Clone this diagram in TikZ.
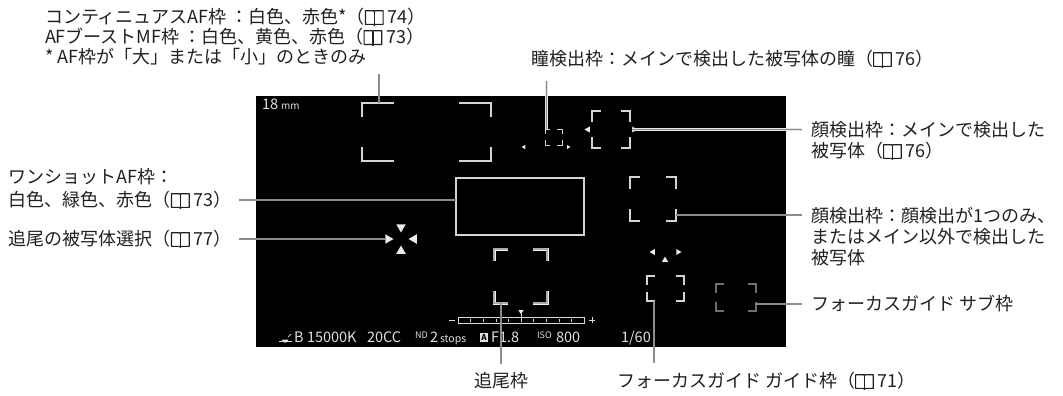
\documentclass[tikz,border=0pt]{standalone}
\usepackage{fontspec}
\setmainfont{Noto Sans CJK JP}
\usetikzlibrary{fit}
\definecolor{txt}{HTML}{231F20}
\definecolor{frmc}{HTML}{D4D4D4}
\definecolor{frmdim}{HTML}{6E6E6E}
\definecolor{leadc}{HTML}{8C8C8C}
\newcommand\bookicon{\tikz[baseline=0pt,x=1em,y=1em,line width=0.065em,line join=round]{%
  \draw (0.03,-0.06) -- (0.03,0.70) -- (0.48,0.70) -- (0.52,0.64) -- (0.56,0.70) -- (1.01,0.70) -- (1.01,-0.06) -- (0.56,-0.06) -- (0.52,-0.12) -- (0.48,-0.06) -- cycle;
  \draw (0.52,0.64) -- (0.52,-0.12);}}
\newcommand\corners[4]{%
  \draw[#1] ([xshift=#3pt]#2.north west) -- (#2.north west) -- ([yshift=-#4pt]#2.north west);
  \draw[#1] ([xshift=-#3pt]#2.north east) -- (#2.north east) -- ([yshift=-#4pt]#2.north east);
  \draw[#1] ([xshift=#3pt]#2.south west) -- (#2.south west) -- ([yshift=#4pt]#2.south west);
  \draw[#1] ([xshift=-#3pt]#2.south east) -- (#2.south east) -- ([yshift=#4pt]#2.south east);}
\newcommand\tri[4]{\fill[mk,shift={(#1,#2)},rotate=#3] (#4,0) -- (-#4/2,0.866*#4) -- (-#4/2,-0.866*#4) -- cycle;}
\begin{document}
\begin{tikzpicture}[x=1pt,y=-1pt,
  font=\fontsize{18}{21}\selectfont,
  lbl/.style={anchor=west,inner sep=0pt,outer sep=0pt,text=txt},
  box/.style={inner sep=0pt,outer sep=0pt},
  frm/.style={draw=frmc,line width=1.1pt},
  dimfrm/.style={draw=frmdim,line width=1.1pt},
  thinfrm/.style={draw=frmc,line width=0.8pt},
  dblfrm/.style={draw=white!95!black,double=gray!65,line width=0.9pt,double distance=1.2pt},
  leader/.style={draw=white!80!gray,double=leadc,line width=0.45pt,double distance=1.9pt},
  osd/.style={anchor=base west,inner sep=0pt,outer sep=0pt,text=white!88!black},
  mk/.style={fill=white!92!black}]
\useasboundingbox (0,0) rectangle (1063,396);
% screen
\node[box,fill=black,fit={(256,96)(786,347)}] (screen) {};
% labels
\node[lbl] (tl1) at (45,17) {コンティニュアスAF枠\ ：白色、赤色*（\bookicon\ 74）};
\node[lbl] (tl2) at (45,37) {AFブーストMF枠\ ：白色、黄色、赤色（\bookicon\ 73）};
\node[lbl] (tl3) at (45,57) {* AF枠が「大」または「小」のときのみ};
\node[lbl] (eyel) at (531,59) {瞳検出枠：メインで検出した被写体の瞳（\bookicon\ 76）};
\node[lbl] (f1a) at (811,130) {顔検出枠：メインで検出した};
\node[lbl] (f1b) at (811,151) {被写体（\bookicon\ 76）};
\node[lbl] (f2a) at (811,216) {顔検出枠：顔検出が1つのみ、};
\node[lbl] (f2b) at (811,237) {またはメイン以外で検出した};
\node[lbl] (f2c) at (811,258) {被写体};
\node[lbl] (subl) at (811,304) {フォーカスガイド\ サブ枠};
\node[lbl] (osa) at (9,177) {ワンショットAF枠：};
\node[lbl] (osb) at (9,200) {白色、緑色、赤色（\bookicon\ 73）};
\node[lbl] (tsl) at (9,239) {追尾の被写体選択（\bookicon\ 77）};
\node[lbl,anchor=center] (trkl) at (501,381) {追尾枠};
\node[lbl] (fgl) at (617,381) {フォーカスガイド\ ガイド枠（\bookicon\ 71）};
% frames
\node[box,fit={(362,103)(491,161)}] (caf) {};
\corners{frm}{caf}{32}{14}
\node[box,fit={(545,129)(562,145)}] (eye) {};
\corners{thinfrm}{eye}{5}{5}
\tri{524}{147}{180}{2.5}
\tri{568}{147}{0}{2.5}
\node[box,fit={(592,111)(630,148)}] (face1) {};
\corners{frm}{face1}{9}{11}
\tri{588}{129.5}{180}{3.5}
\tri{634}{129.5}{0}{3.5}
\node[box,fit={(630,177)(676,221)}] (face2) {};
\corners{frm}{face2}{10}{12}
\node[box,draw=frmc,line width=1.1pt,fit={(456,178)(584,235)}] (oneshot) {};
\node[box,fit={(494,249)(547,303)}] (trk) {};
\corners{dblfrm}{trk}{14}{12}
\node[box,fit={(647,276)(684,301)}] (fg) {};
\corners{frm}{fg}{8}{9}
\tri{653}{252}{-60}{3.5}
\tri{665}{260}{90}{3.5}
\tri{678}{252}{240}{3.5}
\node[box,fit={(716,284)(756,311)}] (sub) {};
\corners{dimfrm}{sub}{8}{9}
% tracking subject selection marker
\coordinate (tsel) at (401,239);
\tri{401}{227}{270}{5.5}
\tri{401}{251}{90}{5.5}
\tri{388}{239}{0}{5.5}
\tri{414}{239}{180}{5.5}
\coordinate (tselL) at (385,239);
% OSD texts
\node[osd,font=\fontsize{14.5}{14.5}\selectfont] (fl) at (262,110) {18};
\node[osd,font=\fontsize{10}{10}\selectfont] (flmm) at (281,110) {mm};
\fill[white!88!black] (279,342) -- (292,342) -- (292,340.5) -- (279,340.5) -- cycle;
\fill[white!88!black] (282,339.5) arc (180:0:3.2) -- cycle;
\draw[white!88!black,line width=0.7pt] (288,337) -- (291,334);
\node[osd,font=\fontsize{14.5}{14.5}\selectfont] (wb) at (294,342) {B};
\node[osd,font=\fontsize{14.5}{14.5}\selectfont] (k) at (307,342) {15000K};
\node[osd,font=\fontsize{14.5}{14.5}\selectfont] (cc) at (367,342) {20CC};
\node[osd,font=\fontsize{9}{9}\selectfont] (nd) at (415,338) {ND};
\node[osd,font=\fontsize{14.5}{14.5}\selectfont] (nd2) at (430,342) {2};
\node[osd,font=\fontsize{10.5}{10.5}\selectfont] (stops) at (440,342) {stops};
\node[box,fill=white!88!black,minimum width=8pt,minimum height=9.5pt,anchor=south west,font=\fontsize{8}{8}\selectfont\bfseries,text=black] (abox) at (480,342) {A};
\node[osd,font=\fontsize{14.5}{14.5}\selectfont] (fn) at (491,342) {F1.8};
\node[osd,font=\fontsize{9}{9}\selectfont] (iso) at (537,338) {ISO};
\node[osd,font=\fontsize{14.5}{14.5}\selectfont] (isov) at (556,342) {800};
\node[osd,font=\fontsize{14.5}{14.5}\selectfont] (sh) at (621,342) {1/60};
% exposure meter
\draw[white!85!black,line width=0.9pt] (449,320) -- (455,320);
\draw[white!85!black,line width=0.9pt] (589,320) -- (595,320) (592,317) -- (592,323);
\draw[white!85!black,line width=0.8pt] (458,317) rectangle (584,323);
\foreach \i in {1,...,9} \draw[white!85!black,line width=0.6pt] (458+\i*12.6,318.5) -- (458+\i*12.6,321.5);
\draw[white!85!black,line width=0.6pt] (521,314) -- (521,321.5);
\tri{521}{311.5}{270}{3}
% leaders
\draw[leader] ([xshift=17pt,yshift=-9pt]caf.north west |- tl3.south) -- ([xshift=17pt]caf.north west);
\draw[leader] ([xshift=1.5pt,yshift=-13pt]eye.north west |- eyel.south) -- ([xshift=1.5pt]eye.north west);
\draw[leader] ([xshift=2pt]face1.east) -- ([xshift=-9pt]f1a.west |- face1.east);
\draw[leader] ([yshift=6pt]face2.south east) -- ([xshift=-9pt,yshift=6pt]f2a.west |- face2.south east);
\draw[leader] ([xshift=7pt]osb.east) -- (oneshot.west |- osb.east);
\draw[leader] ([xshift=7pt]tsl.east) -- (tselL |- tsl.east);
\draw[leader] ([xshift=7pt]trk.south west) -- ([xshift=7pt,yshift=9pt]trk.south west |- trkl.north);
\draw[leader] ([xshift=7pt]fg.south west) -- ([xshift=7pt,yshift=9pt]fg.south west |- fgl.north);
\draw[leader] ([yshift=7pt]sub.south east) -- ([xshift=-9pt,yshift=7pt]subl.west |- sub.south east);
\end{tikzpicture}
\end{document}
